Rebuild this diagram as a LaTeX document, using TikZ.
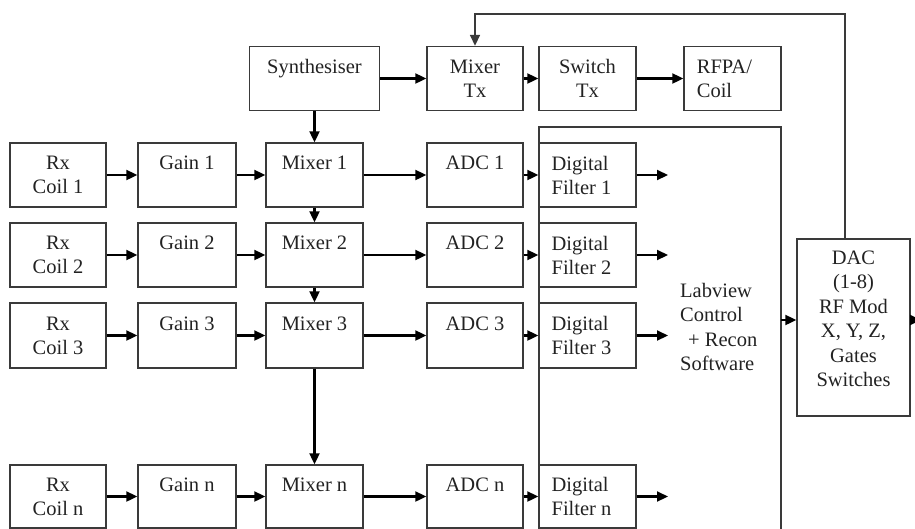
\documentclass[tikz,border=0pt]{standalone}
\usepackage{fontspec}
\setmainfont{Liberation Serif}
\usetikzlibrary{arrows.meta}
\definecolor{boxc}{HTML}{3A3A3A}
\definecolor{txtc}{HTML}{222222}
\begin{document}
\begin{tikzpicture}[x=1pt,y=-1pt,
  box/.style={draw=boxc, line width=1.4pt, minimum width=#1, minimum height=64, inner sep=0pt,
    font=\fontsize{20.5}{24}\selectfont, text=txtc, align=center},
  box/.default=97,
  lbox/.style={box=#1, align=left},
  lbox/.default=97,
  txt/.style={inner sep=0pt, font=\fontsize{20.5}{24.5}\selectfont, text=txtc},
  arr/.style={line width=2.1pt, -{Triangle[length=11pt,width=10pt]}},
  fb/.style={line width=1.7pt, draw=boxc, -{Triangle[length=11pt,width=10pt]}}
]
\useasboundingbox (0,0) rectangle (915,528);

% top row
\node[box=130] (syn) at (314.5,78.5) {Synthesiser\\\mbox{}};
\node[box=96] (mtx) at (475,78.5) {Mixer\\Tx};
\node[box] (stx) at (587.5,78.5) {Switch\\Tx};
\node[lbox] (rfpa) at (732.5,78.5) {RFPA/\\Coil\hspace*{36pt}};

% Labview box (open at the bottom)
\coordinate (labTL) at (539,127);
\coordinate (labTR) at (781,127);
\coordinate (labBL) at (539,529);
\coordinate (labBR) at (781,529);
\draw[draw=boxc, line width=1.4pt] (labBL) -- (labTL) -- (labTR) -- (labBR);
\node[txt, anchor=west, align=left] (labtxt) at (680,327) {Labview\\Control\\\hspace*{8pt}+ Recon\\Software};

% DAC
\node[box=113, minimum height=177] (dac) at (853.5,327.5) {};
\node[txt, align=center] (dactxt) at (853.5,319) {DAC\\(1-8)\\RF Mod\\X, Y, Z,\\Gates\\Switches};

% rows
\foreach \r/\y/\h in {1/175/64, 2/255/64, 3/335.5/65, n/496.5/63} {
  \node[box=96, minimum height=\h] (rx\r) at (58,\y) {Rx\\Coil \r};
  \node[box=98, minimum height=\h] (g\r) at (187,\y) {Gain \r\\\mbox{}};
  \node[box, minimum height=\h] (m\r) at (314.5,\y) {Mixer \r\\\mbox{}};
  \node[box=96, minimum height=\h] (adc\r) at (475,\y) {ADC \r\\\mbox{}};
  \node[lbox, minimum height=\h] (df\r) at (587.5,\y) {Digital\\Filter \r\hspace*{12pt}};
  \coordinate (o\r) at (668,\y);
  \draw[arr] (rx\r) -- (g\r);
  \draw[arr] (g\r) -- (m\r);
  \draw[arr] (m\r) -- (adc\r);
  \draw[arr] (adc\r) -- (df\r);
  \draw[arr] (df\r) -- (o\r);
}

% vertical mixer chain
\draw[arr] (syn) -- (m1);
\draw[arr] (m1) -- (m2);
\draw[arr] (m2) -- (m3);
\draw[arr] (m3) -- (mn);

% top chain
\draw[arr] (syn) -- (mtx);
\draw[arr] (mtx) -- (stx);
\draw[arr] (stx) -- (rfpa);

% Labview to DAC and DAC out
\coordinate (labR) at (781,320);
\coordinate (dacout) at (921,320);
\draw[arr] (labR) -- (dac.west |- labR);
\draw[arr] (dac.east |- labR) -- (dacout);

% feedback
\coordinate (fbtop) at (845,14);
\draw[fb] (dac.north -| fbtop) -- (fbtop) -| (mtx.north);
\end{tikzpicture}
\end{document}
